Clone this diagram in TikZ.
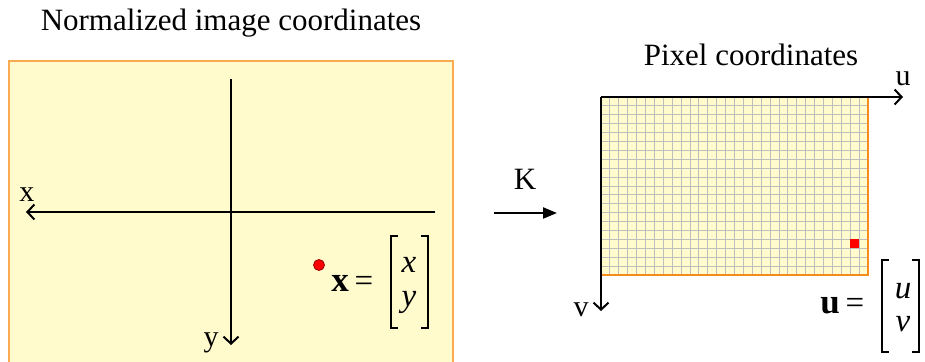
\documentclass[tikz,border=0pt]{standalone}
\usepackage{fontspec}
\setmainfont{Liberation Serif}
\usepackage{tikz}
\usetikzlibrary{positioning,arrows.meta}
\usepackage{xcolor}
\definecolor{paper}{RGB}{255,251,204}
\definecolor{edgeorange}{RGB}{250,170,80}
\definecolor{pixorange}{RGB}{245,140,30}
\definecolor{gridgray}{RGB}{190,190,190}

\begin{document}
\begin{tikzpicture}[x=1pt,y=-1pt,
    axis/.style={line width=2.2pt,-{Straight Barb[length=7pt,width=15pt,line width=2pt]}},
    lbl/.style={inner sep=0pt,anchor=base,font=\fontsize{30}{32}\selectfont},
    ttl/.style={inner sep=0pt,anchor=base,font=\fontsize{31}{34}\selectfont},
    mth/.style={inner sep=0pt,anchor=base,font=\fontsize{33}{35}\selectfont},
    brk/.style={line width=2pt}]
  \clip (0,0) rectangle (925,361);
  \useasboundingbox (0,0) rectangle (925,361);
  % normalized image plane
  \draw[fill=paper,draw=edgeorange,line width=1.5pt] (9,61) rectangle (453,380);
  \node[ttl] (nrmttl) at (231,31) {Normalized image coordinates};
  \coordinate (xR) at (435,212);
  \coordinate (xL) at (26,212);
  \coordinate (yT) at (231,79);
  \coordinate (yB) at (231,345);
  \draw[axis] (xR) -- (xL);
  \draw[axis] (yT) -- (yB);
  \node[lbl] (xlbl) at (27,201) {x};
  \node[lbl] (ylbl) at (211,346) {y};
  \node[circle,fill=red,draw=red!60!black,line width=0.8pt,inner sep=0pt,minimum size=11pt] (pt) at (319,265) {};
  \node[mth,font=\fontsize{35}{36}\selectfont] (xbold) at (340,291) {\textbf{x}};
  \node[mth] (xeq) at (364,291) {=};
  \node[mth] (xent) at (409,272) {\textit{x}};
  \node[mth] (yent) at (409,306) {\textit{y}};
  \draw[brk] (398,236) -- (391,236) -- (391,328) -- (398,328);
  \draw[brk] (421,236) -- (428,236) -- (428,328) -- (421,328);
  % K arrow
  \node[ttl] (kk) at (525,189) {K};
  \coordinate (kL) at (494,213);
  \coordinate (kR) at (557,213);
  \draw[line width=2.2pt,-{Triangle[length=14pt,width=11pt]}] (kL) -- (kR);
  % pixel plane
  \node[ttl] (pixttl) at (751,66) {Pixel coordinates};
  \fill[paper] (601,97) rectangle (868,275);
  \foreach \i in {1,...,29}
    \draw[gridgray,line width=1pt] (601+\i*8.9,97) -- (601+\i*8.9,275);
  \foreach \j in {1,...,19}
    \draw[gridgray,line width=1pt] (601,97+\j*8.9) -- (868,97+\j*8.9);
  \fill[red] (850.2,239.4) rectangle (859.1,248.3);
  \draw[pixorange,line width=2.5pt] (868,97) -- (868,275) -- (601,275);
  \coordinate (o) at (601,97);
  \coordinate (uR) at (903,97);
  \coordinate (vB) at (601,311);
  \draw[axis] (o) -- (uR);
  \draw[axis] (o) -- (vB);
  \node[lbl] (ulbl) at (903,85) {u};
  \node[lbl] (vlbl) at (581,316) {v};
  \node[mth,font=\fontsize{35}{36}\selectfont] (ubold) at (830,313) {\textbf{u}};
  \node[mth] (ueq) at (855,313) {=};
  \node[mth] (uent) at (903,298) {\textit{u}};
  \node[mth] (vent) at (903,331) {\textit{v}};
  \draw[brk] (889,260) -- (882,260) -- (882,352) -- (889,352);
  \draw[brk] (912,260) -- (919,260) -- (919,352) -- (912,352);
\end{tikzpicture}
\end{document}
